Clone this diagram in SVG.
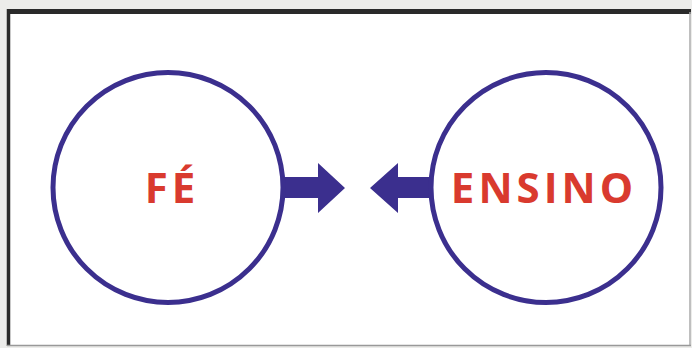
<svg xmlns="http://www.w3.org/2000/svg" width="692" height="348" viewBox="0 0 692 348">
<style>
.ring{fill:#fff;stroke:#3b2f8e;stroke-width:5}
.arrow{fill:#3b2f8e}
.lbl{font-family:"Open Sans","Liberation Sans",sans-serif;font-weight:bold;font-size:42px;fill:#d93a2e;text-anchor:middle}
</style>
<rect x="0" y="0" width="692" height="348" fill="#ececea"/>
<rect x="7" y="9" width="684" height="337" fill="#fff"/>
<line x1="7" y1="11.5" x2="691" y2="11.5" stroke="#2a2a2a" stroke-width="5"/>
<line x1="8.5" y1="9" x2="8.5" y2="346" stroke="#2a2a2a" stroke-width="3.5"/>
<line x1="690" y1="12" x2="690" y2="346" stroke="#aaa" stroke-width="1.5"/>
<line x1="7" y1="345.5" x2="691" y2="345.5" stroke="#999" stroke-width="1.5"/>
<g id="connectors">
<polygon class="arrow" points="283,177 318,177 318,163 345,188 318,213 318,198 283,198"/>
<polygon class="arrow" points="432,177 398,177 398,163 370,188 398,213 398,198 432,198"/>
</g>
<g id="fe">
<circle class="ring" cx="168" cy="187.5" r="115"/>
<text class="lbl" x="172" y="203" letter-spacing="4">FÉ</text>
</g>
<g id="ensino">
<circle class="ring" cx="546" cy="187.5" r="115"/>
<text class="lbl" x="544" y="203" letter-spacing="4">ENSINO</text>
</g>
</svg>
